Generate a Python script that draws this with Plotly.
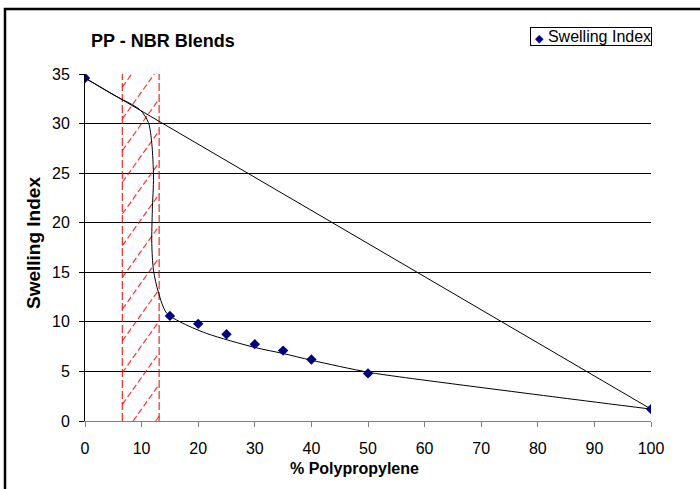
import plotly.graph_objects as go

# ---------------- data ----------------
pp_percent = [0, 15, 20, 25, 30, 35, 40, 50, 100]
swelling_index = [34.6, 10.6, 9.8, 8.75, 7.75, 7.1, 6.2, 4.8, 1.2]

# hand-drawn trend curve
curve_x = [0, 5.0, 9.7, 11.2, 11.8, 12.1, 11.9, 11.8, 12.1, 12.95, 14.4, 16.8, 21.5,
           30.0, 35.0, 40.0, 50.0, 55.6, 83.9, 100]
curve_y = [34.6, 32.9, 31.4, 30.1, 28.0, 24.6, 21.3, 17.9, 15.2, 13.0, 10.9, 10.0, 8.83,
           7.42, 6.81, 6.13, 4.92, 4.45, 2.36, 1.2]

# hatched band limits (% PP)
band_lo, band_hi = 6.6, 13.1

x_ticks = list(range(0, 101, 10))
y_ticks = list(range(0, 36, 5))

title_text = "PP - NBR Blends"
x_title = "% Polypropylene"
y_title = "Swelling Index"
legend_text = "Swelling Index"

# ---------------- layout geometry ----------------
W, H = 700, 489
L, R, T, B = 85, 651, 74, 421
FONT = "Liberation Sans, Arial, sans-serif"


def px(xp):
    return (xp - L) / (R - L)


def py(yp):
    return (B - yp) / (B - T)


fig = go.Figure()

# straight line between the end points
fig.add_trace(go.Scatter(x=[pp_percent[0], pp_percent[-1]],
                         y=[swelling_index[0], swelling_index[-1]],
                         mode="lines", line=dict(color="black", width=1),
                         showlegend=False, hoverinfo="skip"))
# smooth curve
fig.add_trace(go.Scatter(x=curve_x, y=curve_y, mode="lines",
                         line=dict(color="black", width=1, shape="spline", smoothing=0.8),
                         showlegend=False, hoverinfo="skip"))
# data points
fig.add_trace(go.Scatter(x=pp_percent, y=swelling_index, mode="markers",
                         marker=dict(symbol="diamond", size=8, color="#000080"),
                         name=legend_text, showlegend=False))

shapes = []
red = "rgba(255,0,0,0.8)"
# dashed vertical band borders
for xv in (band_lo, band_hi):
    shapes.append(dict(type="line", xref="x", yref="y", x0=xv, x1=xv, y0=0, y1=35,
                       line=dict(color=red, width=1.3, dash="8px,3px"), layer="between"))
# diagonal hatching
slope, x_off, spacing = 0.8, 8.5, 3.2
for m in range(-4, 16):
    c = spacing * m
    ya = slope * (band_lo - x_off) + c
    yb = slope * (band_hi - x_off) + c
    xa, xb = band_lo, band_hi
    if yb < 0 or ya > 35:
        continue
    if ya < 0:
        xa = x_off + (0 - c) / slope
        ya = 0
    if yb > 35:
        xb = x_off + (35 - c) / slope
        yb = 35
    shapes.append(dict(type="line", xref="x", yref="y", x0=xa, x1=xb, y0=ya, y1=yb,
                       line=dict(color=red, width=1.2, dash="6px,3px"), layer="between"))

# outer chart border (top-left visible)
shapes.append(dict(type="rect", xref="paper", yref="paper",
                   x0=px(5), x1=px(720), y0=py(520), y1=py(9),
                   line=dict(color="black", width=2.5), fillcolor="rgba(0,0,0,0)"))

annotations = [
    dict(text="<b>%s</b>" % title_text, xref="paper", yref="paper", x=px(89), y=py(41),
         xanchor="left", yanchor="middle", showarrow=False,
         font=dict(family=FONT, size=18, color="black")),
    dict(text="<b>%s</b>" % x_title, xref="paper", yref="paper", x=px(354), y=py(468),
         xanchor="center", yanchor="middle", showarrow=False,
         font=dict(family=FONT, size=16, color="black")),
    dict(text="<b>%s</b>" % y_title, xref="paper", yref="paper", x=px(33), y=py(243),
         xanchor="center", yanchor="middle", showarrow=False, textangle=-90,
         font=dict(family=FONT, size=19, color="black")),
    dict(text="&nbsp;<span style='color:#000080;font-size:11px'>◆</span> %s" % legend_text,
         xref="paper", yref="paper", x=px(591), y=py(36.5),
         xanchor="center", yanchor="middle", showarrow=False,
         bordercolor="black", borderwidth=1, borderpad=0, bgcolor="white",
         font=dict(family=FONT, size=16, color="black")),
]

fig.update_layout(
    width=W, height=H,
    margin=dict(l=L, r=W - R, t=T, b=H - B, pad=0),
    paper_bgcolor="white", plot_bgcolor="white",
    font=dict(family=FONT, size=16, color="black"),
    shapes=shapes, annotations=annotations, showlegend=False,
    xaxis=dict(range=[0, 100], tickvals=x_ticks, ticktext=[str(v) for v in x_ticks],
               showgrid=False, zeroline=False, showline=True, linecolor="#808080",
               linewidth=1, ticks="outside", ticklen=5, tickcolor="#808080",
               ticklabelstandoff=8, tickfont=dict(size=16)),
    yaxis=dict(range=[0, 35], tickvals=y_ticks, ticktext=[str(v) for v in y_ticks],
               showgrid=True, gridcolor="black", gridwidth=1, zeroline=False,
               showline=True, linecolor="black", linewidth=1, ticks="outside",
               ticklen=5, tickcolor="black", ticklabelstandoff=6,
               tickfont=dict(size=16)),
)

fig.write_html("out.html", config={"displayModeBar": False},
               post_script="document.body.style.margin='0';document.body.style.overflow='hidden';")
